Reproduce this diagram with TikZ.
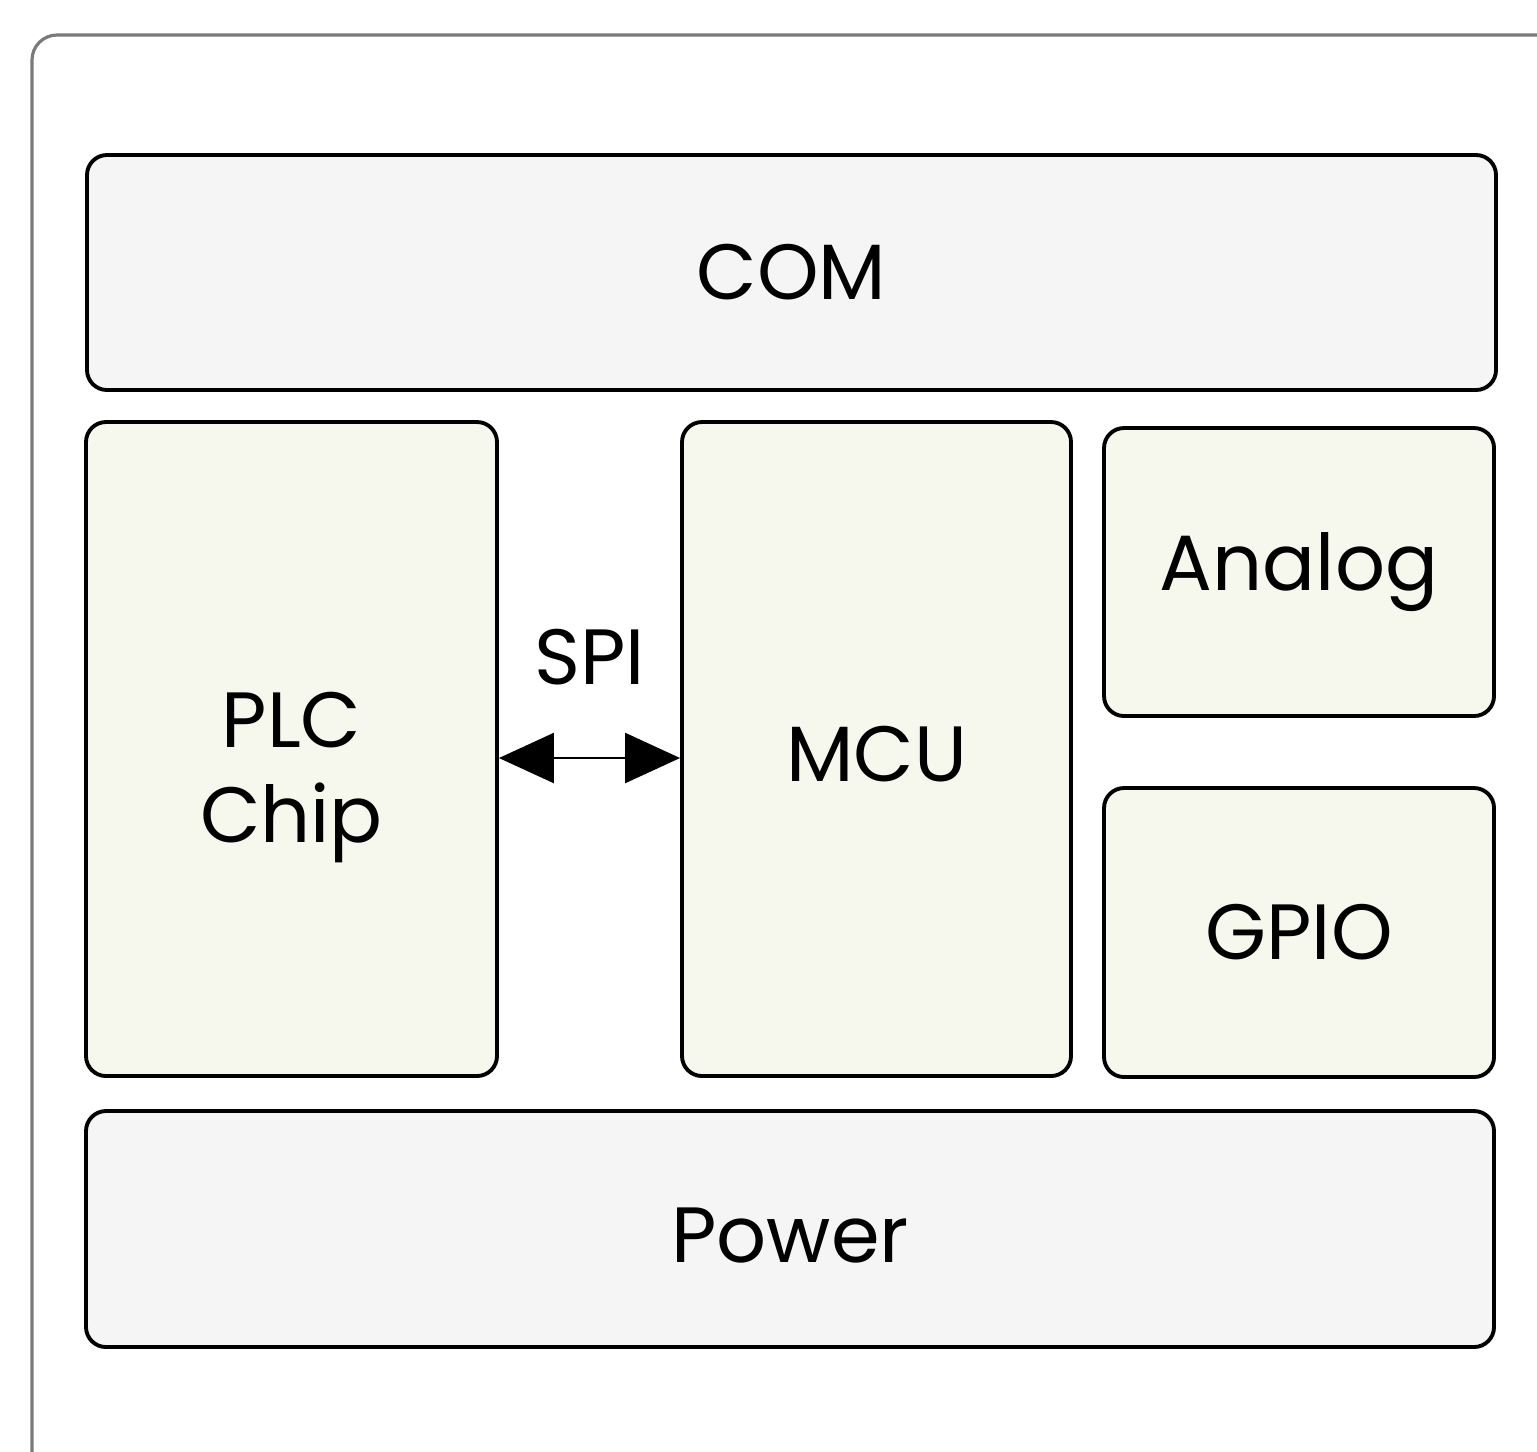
\documentclass[tikz,border=0pt]{standalone}
\usepackage{fontspec}
\setmainfont{Poppins}
\usetikzlibrary{arrows.meta}
\definecolor{greybox}{HTML}{F5F5F5}
\definecolor{greenbox}{HTML}{F6F8EE}
\definecolor{frame}{HTML}{7A7A7A}
\begin{document}
\begin{tikzpicture}[
    block/.style={draw=black,line width=1.1pt,rounded corners=0.2cm,
      align=center,inner sep=0pt,font=\fontsize{22.3}{27}\selectfont},
    wide/.style={block,fill=greybox,minimum width=14.09cm,minimum height=2.35cm},
    unit/.style={block,fill=greenbox}]
  \useasboundingbox (0,0) rectangle (15.37,-14.51);
  \clip (0,0) rectangle (15.37,-14.51);
  \draw[frame,line width=0.9pt,rounded corners=0.25cm] (0.32,-0.35) rectangle (15.9,-15);
  \node[wide] (com) at (7.915,-2.725) {COM};
  \node[unit,minimum width=4.11cm,minimum height=6.54cm] (plc) at (2.915,-7.49)
    {\raisebox{-0.27cm}[\height][\depth]{\begin{tabular}{@{}c@{}}PLC\\Chip\end{tabular}}};
  \node[unit,minimum width=3.89cm,minimum height=6.54cm] (mcu) at (8.765,-7.49) {\raisebox{-0.05cm}[\height][\depth]{MCU}};
  \node[unit,minimum width=3.90cm,minimum height=2.88cm] (analog) at (12.99,-5.72) {Analog};
  \node[unit,minimum width=3.90cm,minimum height=2.89cm] (gpio) at (12.99,-9.325) {GPIO};
  \node[wide,minimum width=14.08cm,minimum height=2.36cm] (power) at (7.90,-12.29) {\raisebox{-0.06cm}[\height][\depth]{Power}};
  % SPI link
  \draw[{Triangle[length=0.55cm,width=0.5cm]}-{Triangle[length=0.55cm,width=0.5cm]},line width=0.7pt]
    ([yshift=-0.09cm]plc.east) -- ([yshift=-0.09cm]mcu.west)
    node[midway,above=0.6cm,font=\fontsize{22.3}{27}\selectfont] (spi) {SPI};
\end{tikzpicture}
\end{document}
